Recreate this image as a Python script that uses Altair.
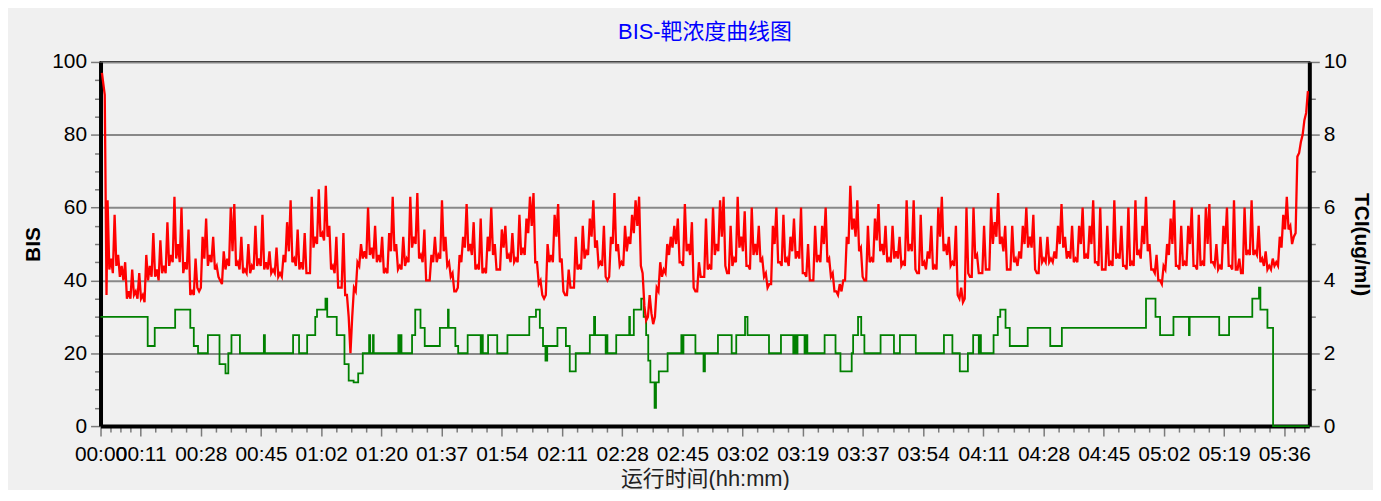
import altair as alt
import pandas as pd

# ---------------- text ----------------
chart_title = "BIS-靶浓度曲线图"
x_title = "运行时间(hh:mm)"
bis_title = "BIS"
tci_title = "TCI(ug/ml)"

# ---------------- x axis ticks (minutes) ----------------
x_tick_pos = [0, 11.4, 28.5, 45.6, 62.7, 79.8, 96.9, 114.0, 131.1, 148.2, 165.3,
              182.4, 199.5, 216.6, 233.7, 250.8, 267.9, 285.0, 302.1, 319.2, 336.3]
x_tick_labels = ["00:00", "00:11", "00:28", "00:45", "01:02", "01:20", "01:37",
                 "01:54", "02:11", "02:28", "02:45", "03:02", "03:19", "03:37",
                 "03:54", "04:11", "04:28", "04:45", "05:02", "05:19", "05:36"]
x_max = 343.4

# ---------------- BIS (red) ----------------
# readings at whole minutes (first three at 0.4, 1.2, 1.7 min, then 2..343)
bis_times = [0.4, 1.2, 1.7] + list(range(2, 344))
bis_values = [
    97, 91,
    36, 62, 46, 58, 47, 44, 45, 37, 43, 37,
    42, 36, 47, 44, 53, 43, 51, 44, 56, 47,
    63, 50, 60, 45, 54, 37, 46, 37, 52, 57,
    47, 52, 44, 40, 48, 46, 60, 61, 45, 52,
    43, 50, 44, 55, 46, 58, 45, 48, 43, 49,
    42, 47, 56, 62, 46, 54, 45,
    53, 42, 63,
    52, 65, 53, 66, 55, 44, 52, 38, 53, 36,
    20, 38, 45, 50, 48, 60, 49, 55, 47, 52,
    43, 53, 63, 50, 44, 52, 46, 63, 52, 64,
    47, 54, 40, 47, 52, 47, 62, 52, 45, 42,
    37, 47, 52, 61, 50, 56, 44, 57, 43, 52,
    60, 50, 43, 54,
    55, 47, 53, 46, 58, 49,
    57, 63, 64, 45, 40, 35, 50, 47, 58, 61,
    46, 36, 43, 38, 52, 44, 55, 48, 57, 62,
    51, 45, 55, 40, 52, 64, 50, 45, 55, 52,
    58, 62, 63, 42, 29, 36, 28, 38, 45, 43,
    50, 52, 55, 57, 45, 61, 50, 56, 37, 45,
    41, 57, 44, 60, 50, 62, 63, 42, 55, 46,
    63, 52, 59, 44, 60, 50, 55, 46, 42, 39,
    55, 60, 45, 58, 46, 52, 57, 48, 60, 42,
    50, 40, 55, 47, 55, 60, 46, 42, 37, 39,
    40, 52, 66, 57, 62, 49, 40, 55, 46, 57,
    61, 50, 55, 46, 55, 48, 52,
    45, 62, 50,
    62, 42, 58, 45, 48, 55, 44, 60, 63, 50,
    52, 45, 55, 35, 34, 60, 41, 60, 47, 42,
    55, 43, 60, 56, 64, 52, 55, 43, 55, 46,
    48, 55, 60, 52, 58, 42, 52, 46, 52, 46,
    48, 55, 61, 52, 48, 55, 46, 55, 60, 47,
    55, 62, 45,
    60, 43, 55, 45, 62, 47, 55,
    44, 60, 45, 62, 48, 55, 63, 50, 43, 47,
    40, 44, 50, 57, 62, 44, 55, 45, 55, 60,
    44, 58, 45, 60, 61, 45, 50, 44, 55, 60,
    44, 62, 43, 42, 60, 48, 62, 48, 55, 46,
    48, 44, 46, 45, 52, 58, 63, 55, 52, 74,
    78, 84, 92,
]
# readings at the half minutes 2.5 .. 342.5 (the short dips between peaks)
bis_half_times = [t + 0.5 for t in range(2, 343)]
bis_half_values = [
    43, 42, 44, 41, 40, 35, 35, 36, 35, 35,
    34, 40, 41, 41, 40, 42, 42, 44, 45, 46,
    45, 42, 43, 36, 36, 38, 38, 46, 44, 45,
    43, 41, 39, 43, 44, 48, 44, 43, 42, 42,
    42, 43, 44, 44, 43, 43, 42, 42, 41, 41,
    45, 48, 45, 44, 43, 43, 42, 42, 49, 50,
    52, 51, 52, 43, 42, 38, 38, 36, 30, 30,
    37, 44, 46, 46, 47, 46, 45, 45, 42, 42,
    48, 48, 43, 43, 44, 45, 49, 50, 46, 45,
    40, 40, 45, 45, 46, 48, 44, 41, 37, 38,
    45, 49, 48, 47, 43, 43, 42, 42, 48, 47,
    43, 43, 49, 46, 45, 45, 45, 47, 47, 53,
    55, 45, 39, 36, 36, 45, 45, 52, 45, 37,
    36, 38, 38, 43, 43, 46, 47, 52, 49, 44,
    44, 41, 41, 50, 48, 44, 44, 48, 50, 53,
    55, 44, 33, 30, 31, 30, 37, 41, 42, 47,
    49, 50, 45, 44, 48, 47, 38, 37, 41, 41,
    43, 43, 47, 48, 52, 44, 42, 44, 45, 49,
    48, 44, 43, 47, 47, 45, 41, 38, 39, 50,
    45, 44, 45, 44, 48, 46, 46, 42, 41, 40,
    40, 45, 45, 50, 45, 41, 37, 36, 37, 40,
    50, 54, 52, 48, 41, 40, 45, 45, 51, 48,
    47, 45, 45, 46, 46, 44, 44, 48, 48, 43,
    42, 44, 43, 46, 43, 43, 52, 48, 47, 44,
    44, 36, 38, 35, 42, 41, 46, 42, 42, 43,
    43, 50, 52, 50, 48, 43, 43, 45, 44, 46,
    50, 49, 49, 43, 42, 45, 45, 45, 45, 46,
    50, 49, 46, 46, 45, 45, 50, 46, 46, 50,
    45, 44, 43, 43, 44, 44, 46, 46, 44, 43,
    44, 44, 47, 46, 50, 48, 43, 42, 40, 39,
    43, 47, 50, 44, 43, 44, 44, 50, 44, 43,
    44, 44, 50, 45, 44, 43, 43, 50, 44, 43,
    43, 46, 42, 47, 47, 47, 47, 45, 44, 43,
    43, 44, 44, 49, 54, 54, 50, 53, 75, 80,
    86,
]

# ---------------- TCI (green, step changes) ----------------
tci_times = [
    0, 13.4, 15.4, 21.2, 25.5, 26.5, 27.7, 30.5, 33.8, 35.5, 36.3, 37.2, 39.6,
    46.4, 46.7, 54.7, 56.4, 58.7, 61.0, 61.5, 63.9, 64.4, 67.1, 69.3, 70.5,
    71.9, 73.2, 74.5, 76.3, 76.6, 77.4, 77.6, 84.6, 84.9, 85.2, 85.5, 88.5,
    89.4, 90.9, 92.1, 96.4, 98.7, 98.9, 100.8, 101.6, 104.3, 108.0, 108.3,
    108.6, 110.1, 112.7, 115.6, 121.8, 123.7, 124.8, 125.7, 126.4, 126.9,
    129.8, 132.2, 133.3, 135.0, 139.0, 140.2, 140.5, 143.5, 143.7, 144.0,
    146.5, 150.2, 150.4, 151.5, 153.6, 154.3, 155.0, 155.6, 156.2, 157.4,
    157.8, 158.6, 161.1, 165.0, 165.2, 165.6, 169.0, 171.3, 171.7, 175.4,
    179.3, 180.6, 183.1, 183.8, 189.9, 193.3, 196.8, 197.2, 197.6, 198.0,
    200.0, 200.4, 200.8, 201.5, 205.7, 208.8, 210.2, 213.4, 213.8, 215.2,
    216.1, 217.0, 221.6, 225.4, 227.1, 231.6, 239.6, 242.0, 244.1, 246.4,
    247.9, 249.5, 249.8, 250.1, 253.7, 254.9, 255.6, 257.1, 258.3, 263.4,
    269.8, 273.1, 297.0, 299.7, 301.0, 304.8, 309.2, 309.4, 317.8, 320.6,
    327.2, 329.1, 329.5, 331.5, 333.1, 343.4,
]
tci_values = [
    3.0, 2.2, 2.7, 3.2, 2.7, 2.2, 2.0, 2.5, 1.7, 1.45, 2.0, 2.5, 2.0,
    2.5, 2.0, 2.5, 2.0, 2.5, 3.0, 3.2, 3.5, 3.0, 2.5, 1.7, 1.25,
    1.2, 1.45, 2.0, 2.5, 2.0, 2.5, 2.0, 2.5, 2.0, 2.5, 2.0, 2.5,
    3.2, 2.7, 2.2, 2.7, 3.2, 2.7, 2.2, 2.0, 2.5, 2.0, 2.5,
    2.0, 2.5, 2.0, 2.5, 3.0, 3.2, 2.7, 2.2, 1.8, 2.2,
    2.7, 2.2, 1.5, 2.0, 2.5, 3.0, 2.5, 2.0, 2.5, 2.0,
    2.5, 3.0, 2.5, 3.2, 3.5, 3.0, 2.5, 1.8, 1.2, 0.5,
    1.2, 1.5, 2.0, 2.5, 2.0, 2.5, 2.0, 1.5, 2.0, 2.5,
    2.0, 2.5, 3.0, 2.5, 2.0, 2.5, 2.0, 2.5, 2.0, 2.5,
    2.0, 2.5, 2.0, 2.0, 2.5, 2.0, 1.5, 2.0, 2.5, 3.0,
    2.5, 2.0, 2.5, 2.0, 2.5, 2.0, 2.5, 2.0, 1.5, 2.0,
    2.5, 2.0, 2.5, 2.0, 2.5, 3.0, 3.2, 2.7, 2.2, 2.7,
    2.2, 2.7, 3.5, 3.0, 2.5, 3.0, 2.5, 3.0, 2.5, 3.0,
    3.5, 3.8, 3.2, 2.7, 0.0, 0.0,
]

# ---------------- tick helpers ----------------
x_minor = []
for a, b in zip(x_tick_pos[:-1], x_tick_pos[1:]):
    s = (b - a) / 4
    x_minor += [round(a + s * k, 4) for k in (1, 2, 3)]
s_end = (x_tick_pos[1] - x_tick_pos[0]) / 4
x_minor += [round(x_tick_pos[-1] + s_end * k, 4) for k in (1, 2)]
x_values = sorted(x_tick_pos + x_minor)

x_label_expr = "''"
for pos, lab in reversed(list(zip(x_tick_pos, x_tick_labels))):
    x_label_expr = f"(abs(datum.value - {pos}) < 0.01 ? '{lab}' : {x_label_expr})"
x_major_test = " || ".join(f"abs(datum.value - {p}) < 0.01" for p in x_tick_pos)

bis_ticks = [v * 5 for v in range(21)]
tci_ticks = [v * 0.5 for v in range(21)]

LATIN = "Liberation Sans"
MIXED = "Liberation Sans, Noto Sans CJK SC"
TICK_GRAY = "#7a7a7a"

df_bis = (
    pd.DataFrame({"t": bis_times + bis_half_times, "bis": bis_values + bis_half_values})
    .sort_values("t")
    .reset_index(drop=True)
)
df_tci = pd.DataFrame({"t": tci_times, "tci": tci_values})

x_axis = alt.Axis(
    values=x_values, labelExpr=x_label_expr, labelOverlap=False, labelFlush=False,
    tickSize={"condition": {"test": x_major_test, "value": 10}, "value": 6},
    tickColor=TICK_GRAY, tickWidth=1.5, labelPadding=8, grid=False,
    domainColor="black", domainWidth=4, labelFont=LATIN, labelFontSize=21,
    labelColor="black", title=x_title, titleFont=MIXED, titleFontSize=22,
    titleFontWeight="normal", titleColor="#222222", titlePadding=4,
)
x_enc = alt.X("t:Q", scale=alt.Scale(domain=[0, x_max], nice=False, zero=False), axis=x_axis)

green = alt.Chart(df_tci).mark_line(color="#008000", strokeWidth=1.8, interpolate="step-after").encode(
    x=x_enc,
    y=alt.Y("tci:Q", scale=alt.Scale(domain=[0, 10], nice=False),
            axis=alt.Axis(orient="right", values=tci_ticks, format="d",
                          labelExpr="datum.value % 2 === 0 ? datum.label : ''",
                          labelOverlap=False, grid=False,
                          tickSize={"condition": {"test": "datum.value % 2 === 0", "value": 10}, "value": 6},
                          tickColor=TICK_GRAY, tickWidth=1.5, labelPadding=4,
                          domainColor="black", domainWidth=4, labelFont=LATIN,
                          labelFontSize=21, labelColor="black",
                          title=tci_title, titleFont=LATIN, titleFontSize=21,
                          titleFontWeight="bold", titleColor="black", titlePadding=4)),
)

red = alt.Chart(df_bis).mark_line(color="#ff0000", strokeWidth=2.3).encode(
    x=x_enc,
    y=alt.Y("bis:Q", scale=alt.Scale(domain=[0, 100], nice=False),
            axis=alt.Axis(orient="left", values=bis_ticks, format="d",
                          labelExpr="datum.value % 20 === 0 ? datum.label : ''",
                          labelOverlap=False, grid=True, gridColor="#888888", gridWidth=2,
                          gridOpacity={"condition": {"test": "datum.value % 20 === 0", "value": 1}, "value": 0},
                          tickSize={"condition": {"test": "datum.value % 20 === 0", "value": 10}, "value": 6},
                          tickColor=TICK_GRAY, tickWidth=1.5, labelPadding=4,
                          domainColor="black", domainWidth=4, labelFont=LATIN,
                          labelFontSize=21, labelColor="black",
                          title=bis_title, titleFont=LATIN, titleFontSize=21,
                          titleFontWeight="bold", titleColor="black", titlePadding=8)),
)

chart = (
    alt.layer(green, red)
    .resolve_scale(y="independent")
    .properties(
        width=1215, height=366,
        title=alt.TitleParams(chart_title, font=MIXED, fontSize=22, fontWeight="normal",
                              color="#0000ff", offset=7),
        autosize=alt.AutoSizeParams(type="none"),
        padding={"left": 93, "top": 53, "right": 64, "bottom": 63},
        background="#f0f0f0",
    )
    .configure_view(stroke="black", strokeWidth=2, fill="#f0f0f0")
)

chart.save("out.html", embed_options={"renderer": "svg", "actions": False})
